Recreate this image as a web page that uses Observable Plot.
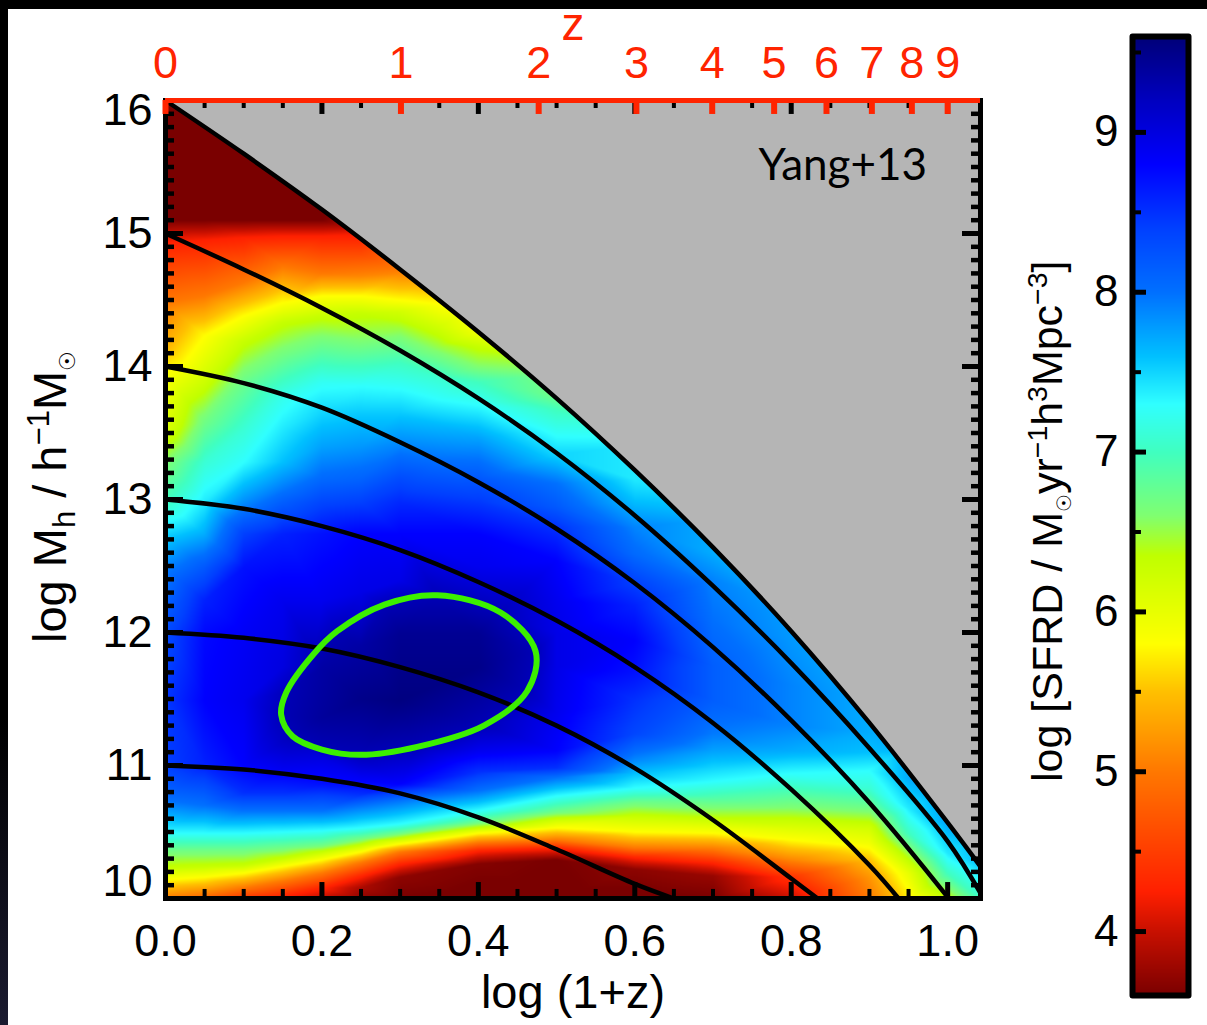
<!DOCTYPE html>
<html>
<head>
<meta charset="utf-8">
<script src="https://cdn.jsdelivr.net/npm/d3@7"></script>
<script src="https://cdn.jsdelivr.net/npm/@observablehq/plot@0.6"></script>
<style>
  html, body { margin: 0; padding: 0; width: 1207px; height: 1025px; overflow: hidden; }
  body { background: linear-gradient(#000 0, #000 70%, #1b1b30 100%); }
  #page { position: absolute; left: 8px; top: 9px; width: 1199px; height: 1016px; background: #fff; }
  #chart, #bar { position: absolute; top: 0; }
  #chart { left: 0; width: 1000px; }
  #bar { left: 1000px; width: 207px; }
  svg { display: block; overflow: visible; }
</style>
</head>
<body>
<div id="page"></div>
<div id="chart"></div>
<div id="bar"></div>
<script>
// ---- colour bar: value -> colour
const colorLevels = [3.6, 4.0, 4.25, 5.0, 5.5, 5.8, 6.35, 6.6, 7.0, 7.3, 7.6, 8.0, 8.4, 8.8, 9.2, 9.6];
const colorStops = ["#7a0000", "#c81000", "#ff2000", "#ff7800", "#ffc000", "#ffff00", "#c0ff00", "#80ff70", "#40ffc0", "#30ffff", "#00c0ff", "#0070ff", "#0040ff", "#0000ff", "#0000c0", "#000078"];

// ---- axis ticks
const xMajor = [0, 0.2, 0.4, 0.6, 0.8, 1.0];
const yMajor = [16, 15, 14, 13, 12, 11, 10];
const zTicks = [0, 1, 2, 3, 4, 5, 6, 7, 8, 9];
const barMajor = [4, 5, 6, 7, 8, 9];
const barMinor = [4.5, 5.5, 6.5, 7.5, 8.5, 9.5];

// ---- black halo-growth tracks: [log(1+z), log Mh]
const track16 = [[0,16],[.1,15.6],[.2,15.18],[.3,14.73],[.4,14.26],[.5,13.76],[.6,13.22],[.7,12.64],[.8,12.01],[.9,11.32],[1,10.57],[1.042,10.24]];
const track15 = [[0,15],[.1,14.73],[.2,14.44],[.3,14.12],[.4,13.76],[.5,13.35],[.6,12.88],[.7,12.35],[.8,11.77],[.9,11.13],[1,10.43],[1.042,10.04]];
const track14 = [[0,14],[.1,13.875],[.2,13.69],[.3,13.43],[.4,13.13],[.5,12.78],[.6,12.37],[.7,11.89],[.8,11.34],[.9,10.72],[1,10.01],[1.0013,10]];
const track13 = [[0,13],[.1,12.93],[.2,12.8],[.3,12.62],[.4,12.38],[.5,12.09],[.6,11.74],[.7,11.32],[.8,10.82],[.9,10.25],[.9373,10]];
const track12 = [[0,12],[.1,11.96],[.2,11.88],[.3,11.74],[.4,11.55],[.5,11.3],[.6,10.98],[.7,10.59],[.8,10.15],[.8338,10]];
const track11 = [[0,11],[.1,10.97],[.2,10.9],[.3,10.79],[.4,10.61],[.5,10.37],[.6,10.11],[.65,9.99]];

// ---- green contour
const greenContour = [[.3474,12.28],[.4284,12.15],[.4731,11.86],[.4625,11.56],[.407,11.3],[.3218,11.14],[.2494,11.08],[.2,11.12],[.1625,11.22],[.1479,11.38],[.1545,11.55],[.1897,11.84],[.2195,12.01],[.28,12.21]];
const greenContourLevel = 9.25;

// ---- log SFRD: [log Mh, log SFRD]
const columnX = [0, .05, .1, .15, .2, .25, .3, .35, .4, .5, .6, .7, .8, .9, .95, 1.0, 1.042];
const col000 = [[16,3.5],[15.1,3.6],[14.93,4.25],[14.48,5.0],[14.16,5.4],[13.95,5.8],[13.53,6.1],[13.28,6.6],[12.98,7.0],[12.74,7.5],[12.49,7.9],[12.24,8.1],[12,8.3],[11.49,8.45],[11,8.4],[10.74,8.0],[10.49,7.3],[10.36,6.7],[10.23,6.3],[10.14,5.8],[10,5.0]];
const col005 = [[15.95,3.5],[15.1,3.6],[14.95,4.25],[14.53,5.0],[14.23,5.8],[13.91,6.2],[13.58,6.7],[13.28,7.1],[12.98,7.4],[12.74,7.7],[12.49,8.2],[12.24,8.6],[12,8.75],[11.49,8.8],[11,8.6],[10.7,8.0],[10.49,7.3],[10.36,6.7],[10.24,6.3],[10.16,5.8],[10.03,5.0],[10,4.8]];
const col010 = [[15.75,3.5],[15.1,3.6],[14.97,4.25],[14.63,5.0],[14.38,5.8],[14.18,6.3],[13.91,6.7],[13.53,7.1],[13.28,7.3],[12.98,7.85],[12.74,8.4],[12.49,8.7],[12,8.85],[11.49,8.9],[11,8.8],[10.79,8.5],[10.66,8.0],[10.49,7.3],[10.36,6.7],[10.25,6.3],[10.19,5.8],[10.08,5.0],[10,4.4]];
const col015 = [[15.55,3.5],[15.1,3.6],[14.98,4.25],[14.75,5.0],[14.48,5.8],[14.33,6.3],[14.08,6.7],[13.78,7.2],[13.53,7.4],[13.28,7.6],[13.08,7.95],[12.98,8.15],[12.74,8.6],[12.24,8.9],[11.74,9.0],[10.98,8.9],[10.79,8.5],[10.66,8.0],[10.5,7.3],[10.38,6.7],[10.3,6.3],[10.24,5.8],[10.13,5.0],[10.02,4.3],[10,4.25]];
const col020 = [[15.4,3.5],[15.1,3.6],[14.98,4.25],[14.7,5.0],[14.53,5.8],[14.38,6.3],[14.18,6.7],[13.88,7.25],[13.65,7.5],[13.4,7.75],[13.16,8.05],[12.98,8.35],[12.74,8.7],[12.24,8.9],[11.74,9.35],[11.36,9.4],[11.06,9.0],[10.86,8.7],[10.66,8.0],[10.51,7.3],[10.4,6.7],[10.35,6.3],[10.29,5.8],[10.19,5.0],[10.08,4.3],[10,3.95]];
const col025 = [[15.15,3.8],[15.0,4.2],[14.85,4.6],[14.68,5.1],[14.53,5.8],[14.4,6.3],[14.2,6.6],[13.85,7.3],[13.65,7.55],[13.4,7.8],[13.16,8.1],[12.98,8.4],[12.74,8.8],[12.3,8.95],[11.9,9.35],[11.5,9.5],[10.9,8.85],[10.78,8.5],[10.7,8.0],[10.53,7.3],[10.45,6.7],[10.4,6.3],[10.35,5.8],[10.27,5.0],[10.17,4.3],[10.08,3.85],[10,3.7]];
const col030 = [[14.95,4.6],[14.7,5.1],[14.5,5.8],[14.41,6.2],[14.28,6.5],[14.03,7.0],[13.83,7.3],[13.65,7.55],[13.4,7.9],[13.16,8.3],[12.98,8.55],[12.74,8.8],[12.39,8.95],[11.99,9.45],[11.49,9.55],[10.86,8.8],[10.74,8.0],[10.56,7.3],[10.49,6.7],[10.45,6.3],[10.41,5.8],[10.35,5.0],[10.26,4.3],[10.16,3.7],[10,3.6]];
const col035 = [[14.7,5.1],[14.47,5.8],[14.3,6.2],[14.15,6.5],[13.9,7.1],[13.75,7.3],[13.55,7.65],[13.3,8.0]];
const col040 = [[14.45,5.7],[14.27,5.9],[14.15,6.3],[14,6.6],[13.88,7.0],[13.71,7.3],[13.46,7.75],[13.16,8.2],[12.98,8.45],[12.74,8.8],[12.49,8.9],[11.99,9.45],[11.74,9.5],[11.11,8.9],[10.95,8.5],[10.81,8.0],[10.66,7.3],[10.57,6.7],[10.53,6.3],[10.49,5.8],[10.42,5.0],[10.36,4.3],[10.26,3.65],[10,3.55]];
const col050 = [[13.95,6.6],[13.78,6.7],[13.67,7.0],[13.54,7.2],[13.34,7.5],[13.12,8.0],[12.94,8.2],[12.79,8.5],[12.54,8.8],[12.24,8.9],[11.99,8.95],[11.74,8.95],[11.39,8.9],[11.11,8.8],[10.98,8.5],[10.91,8.0],[10.77,7.3],[10.65,6.7],[10.6,6.3],[10.53,5.8],[10.44,5.0],[10.38,4.3],[10.29,3.6],[10,3.55]];
const col060 = [[13.4,7.4],[13.15,7.4],[12.99,7.6],[12.79,7.9],[12.59,8.05],[12.37,8.4],[12.2,8.6],[11.94,8.8],[11.7,8.7],[11.49,8.5],[11.24,8.35],[11.05,7.9],[10.94,7.6],[10.83,7.3],[10.72,6.7],[10.62,6.3],[10.5,5.8],[10.38,5.0],[10.31,4.3],[10.22,3.7],[10,3.55]];
const col070 = [[12.85,7.7],[12.6,7.7],[12.4,7.9],[12.1,8.0],[11.75,8.15],[11.49,8.15],[11.24,7.95],[11.11,7.75],[10.98,7.5],[10.88,7.3],[10.76,6.9],[10.62,6.4],[10.5,5.85],[10.37,5.0],[10.27,4.3],[10.17,3.75],[10,3.6]];
const col080 = [[12.2,7.75],[11.95,7.8],[11.6,7.9],[11.3,7.9],[11.11,7.7],[10.94,7.3],[10.83,7.0],[10.68,6.6],[10.53,6.1],[10.44,5.8],[10.29,5.1],[10.16,4.4],[10,4.0]];
const col090 = [[11.5,7.7],[11.25,7.7],[11.1,7.6],[10.96,7.3],[10.83,7.1],[10.68,6.7],[10.53,6.2],[10.41,5.9],[10.29,5.5],[10.16,5.2],[10,5.0]];
const col095 = [[11.15,7.7],[10.9,7.7],[10.68,7.4],[10.49,7.0],[10.34,6.5],[10.19,6.0],[10,5.7]];
const col100 = [[10.8,7.8],[10.55,7.7],[10.34,7.4],[10.19,7.0],[10,6.3]];
const col104 = [[16,7.8],[10.5,7.7],[10.27,7.6],[10,7.0]];
const columns = [col000, col005, col010, col015, col020, col025, col030, col035, col040, col050, col060, col070, col080, col090, col095, col100, col104];

// ---- tables built from the arrays
const samples = columns.flatMap((col, i) => col.map(([y, v]) => ({x: columnX[i], y, v})))
  .concat(greenContour.map(([x, y]) => ({x, y, v: greenContourLevel})));
const tracks = [track16, track15, track14, track13, track12, track11]
  .flatMap((t, i) => t.map(([x, y]) => ({x, y, id: i})));
const topEdge = track16.map(([x, y]) => ({x, y}));
const green = greenContour.map(([x, y]) => ({x, y}));

const xDomain = [0, 1.042], yDomain = [10, 16];
const xMinor = d3.range(1, 21).map(i => i * 0.05).filter(v => Math.round(v * 100) % 20 !== 0);
const yMinor = d3.range(100, 160).map(i => i / 10).filter(v => Math.round(v * 10) % 10 !== 0);
const RED = "#ff2400", FONT = "Liberation Sans";
const colorScale = {type: "linear", domain: colorLevels, range: colorStops, interpolate: "rgb", clamp: true};
const zToX = z => Math.log10(1 + z);

const tickLen = {xMinor: 0.068, xMajor: 0.12, topMinor: 0.06, topMajor: 0.105, yMinor: 0.0115, yMajor: 0.023};

const main = Plot.plot({
  width: 1000, height: 1025,
  marginLeft: 165, marginRight: 20, marginTop: 100, marginBottom: 127,
  style: {background: "transparent", fontFamily: FONT, overflow: "visible"},
  x: {domain: xDomain, axis: null},
  y: {domain: yDomain, axis: null, clamp: true},
  color: colorScale,
  marks: [
    Plot.raster(samples, {x: "x", y: "y", fill: "v", interpolate: "barycentric", pixelSize: 1, x1: 0, x2: 1.042, y1: 10, y2: 16}),
    Plot.areaY(topEdge, {x: "x", y1: "y", y2: () => 16, fill: "#b5b5b5", curve: "catmull-rom"}),
    Plot.line(tracks, {x: "x", y: "y", z: "id", stroke: "#000", strokeWidth: 4.5, curve: "catmull-rom"}),
    Plot.line(green, {x: "x", y: "y", stroke: "#3cf000", strokeWidth: 6, curve: "catmull-rom-closed"}),
    // bottom ticks
    Plot.ruleX(xMinor, {y1: 10, y2: 10 + tickLen.xMinor, stroke: "#000", strokeWidth: 4}),
    Plot.ruleX(xMajor, {y1: 10, y2: 10 + tickLen.xMajor, stroke: "#000", strokeWidth: 5}),
    // top ticks
    Plot.ruleX(xMinor, {y1: 16, y2: 16 - tickLen.topMinor, stroke: "#000", strokeWidth: 4}),
    Plot.ruleX(xMajor.slice(1), {y1: 16, y2: 16 - tickLen.topMajor, stroke: "#000", strokeWidth: 5}),
    // left and right ticks
    Plot.ruleY(yMinor, {x1: 0, x2: tickLen.yMinor, stroke: "#000", strokeWidth: 4.5}),
    Plot.ruleY(yMajor, {x1: 0, x2: tickLen.yMajor, stroke: "#000", strokeWidth: 5}),
    Plot.ruleY(yMinor, {x1: 1.042, x2: 1.042 - tickLen.yMinor, stroke: "#000", strokeWidth: 4.5}),
    Plot.ruleY(yMajor, {x1: 1.042, x2: 1.042 - tickLen.yMajor, stroke: "#000", strokeWidth: 5}),
    Plot.frame({stroke: "#000", strokeWidth: 5}),
    // red redshift axis
    Plot.ruleX(zTicks, {x: zToX, y1: 16, y2: 16 - tickLen.topMajor, stroke: RED, strokeWidth: 6}),
    Plot.ruleY([16], {stroke: RED, strokeWidth: 5}),
    Plot.text(zTicks, {x: zToX, y: () => 16, text: d => String(d), dy: -37, fill: RED, fontSize: 45, fontFamily: FONT}),
    Plot.text(["z"], {x: () => 0.521, y: () => 16, text: d => d, dy: -75, fill: RED, fontSize: 46, fontFamily: FONT}),
    // axis labels
    Plot.axisX(xMajor, {anchor: "bottom", tickSize: 0, tickPadding: 26, fontSize: 45, tickFormat: d3.format(".1f"), label: null}),
    Plot.axisY([15, 14, 13, 12, 11], {anchor: "left", tickSize: 0, tickPadding: 13, fontSize: 45, tickFormat: d => String(d), label: null}),
    Plot.axisY([16], {anchor: "left", tickSize: 0, tickPadding: 13, fontSize: 45, tickFormat: d => String(d), label: null, dy: 10}),
    Plot.axisY([10], {anchor: "left", tickSize: 0, tickPadding: 13, fontSize: 45, tickFormat: d => String(d), label: null, dy: -17}),
    Plot.text(["log (1+z)"], {x: () => 0.521, y: () => 10, text: d => d, dy: 94, fontSize: 47, fontFamily: FONT, fill: "#000"}),
    Plot.text(["Yang+13"], {x: () => 0.866, y: () => 15.51, text: d => d, fontSize: 44, fontFamily: "Lato", fill: "#000"})
  ]
});

const bar = Plot.plot({
  width: 207, height: 1025,
  marginLeft: 132, marginRight: 19, marginTop: 36, marginBottom: 30,
  style: {background: "transparent", fontFamily: FONT, overflow: "visible"},
  x: {domain: [0, 1], axis: null},
  y: {domain: [3.6, 9.6], axis: null},
  color: colorScale,
  marks: [
    Plot.raster({fill: (x, y) => y, pixelSize: 1, x1: 0, x2: 1, y1: 3.6, y2: 9.6}),
    Plot.ruleY(barMajor, {x1: 0, x2: 0.25, stroke: "#000", strokeWidth: 5}),
    Plot.ruleY(barMinor, {x1: 0, x2: 0.16, stroke: "#000", strokeWidth: 4}),
    Plot.frame({stroke: "#000", strokeWidth: 6, strokeLinejoin: "round"}),
    Plot.axisY(barMajor, {anchor: "left", tickSize: 0, tickPadding: 14, fontSize: 44, tickFormat: d => String(d), label: null})
  ]
});

function richLabel(svg, x, y, parts, size) {
  const text = d3.select(svg).append("text")
    .attr("transform", `translate(${x},${y}) rotate(-90)`)
    .attr("font-family", FONT).attr("font-size", size).attr("fill", "#000").attr("text-anchor", "start")
    .style("white-space", "pre");
  let shift = 0;
  for (const [t, kind] of parts) {
    const target = kind === "sub" ? 0.2 * size : kind === "sup" ? -0.36 * size : 0;
    const scale = t === "\u2609" ? 0.46 : kind ? 0.66 : 1;
    text.append("tspan").attr("dy", target - shift).attr("font-size", size * scale).text(t);
    shift = target;
  }
}

document.getElementById("chart").append(main);
document.getElementById("bar").append(bar);

richLabel(main, 66, 643, [["log M"], ["h", "sub"], [" / h"], ["\u22121", "sup"], ["M"], ["\u2609", "sub"]], 47);
richLabel(bar, 62, 782, [["log [SFRD / M"], ["\u2609", "sub"], ["yr"], ["\u22121", "sup"], ["h"], ["3", "sup"], ["Mpc"], ["\u22123", "sup"], ["]"]], 43);
</script>
</body>
</html>
